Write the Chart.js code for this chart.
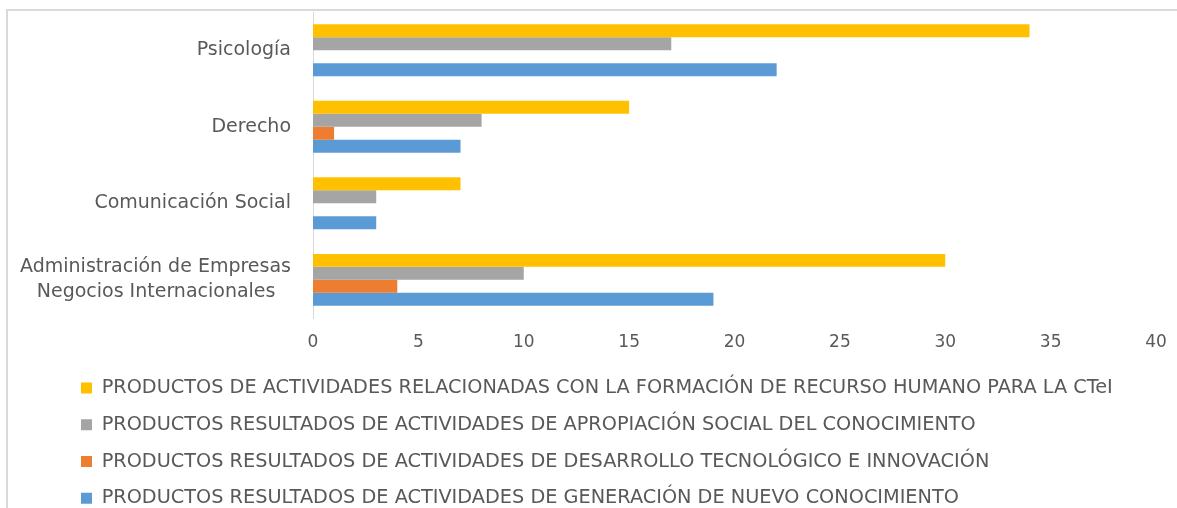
<!DOCTYPE html>
<html lang="es">
<head>
<meta charset="utf-8">
<title>Productos por programa</title>
<script src="https://cdn.jsdelivr.net/npm/chart.js@4.4.1/dist/chart.umd.min.js"></script>
<style>
  html, body { margin: 0; padding: 0; background: #fff; overflow: hidden; }
  #wrap { position: relative; width: 1177px; height: 508px; overflow: hidden; }
  /* marco gris claro del gráfico (solo se ven el borde superior e izquierdo) */
  #marcoSup { position: absolute; left: 6px; top: 9px; width: 1171px; height: 2px; background: #d9d9d9; }
  #marcoIzq { position: absolute; left: 6px; top: 9px; width: 2px; height: 499px; background: #d9d9d9; }
  #grafico { position: absolute; left: 0; top: 0; }
</style>
</head>
<body>
<div id="wrap">
  <div id="marcoSup"></div>
  <div id="marcoIzq"></div>
  <canvas id="grafico" width="1177" height="518"></canvas>
</div>
<script>
// Programas (de arriba hacia abajo)
const programas = [
  'Psicología',
  'Derecho',
  'Comunicación Social',
  ['Administración de Empresas', 'Negocios Internacionales\u2002 ']
];

// Series
const nombresSeries = [
  'PRODUCTOS DE ACTIVIDADES RELACIONADAS CON LA FORMACIÓN DE RECURSO HUMANO PARA LA CTeI',
  'PRODUCTOS RESULTADOS DE ACTIVIDADES DE APROPIACIÓN SOCIAL DEL CONOCIMIENTO',
  'PRODUCTOS RESULTADOS DE ACTIVIDADES DE DESARROLLO TECNOLÓGICO E INNOVACIÓN',
  'PRODUCTOS RESULTADOS DE ACTIVIDADES DE GENERACIÓN DE NUEVO CONOCIMIENTO'
];
const formacionRH = [34, 15, 7, 30];
const apropiacionSocial = [17, 8, 3, 10];
const desarrolloTec = [0, 1, 0, 4];
const nuevoConocimiento = [22, 7, 3, 19];

const coloresSeries = ['#FFC000', '#A5A5A5', '#ED7D31', '#5B9BD5'];

// Marcas del eje X
const marcasX = [0, 5, 10, 15, 20, 25, 30, 35, 40];

Chart.defaults.font.family = '"DejaVu Sans", sans-serif';
Chart.defaults.color = '#595959';

const valores = [formacionRH, apropiacionSocial, desarrolloTec, nuevoConocimiento];

// La leyenda empieza más a la derecha que las etiquetas del eje Y
const legendaDesplazada = {
  id: 'legendaDesplazada',
  afterLayout(chart) {
    chart.legend.left = 63.5;
  }
};

const ctx = document.getElementById('grafico').getContext('2d');
new Chart(ctx, {
  type: 'bar',
  data: {
    labels: programas,
    datasets: valores.map((serie, i) => ({
      label: nombresSeries[i],
      data: serie,
      backgroundColor: coloresSeries[i],
      borderWidth: 0,
      categoryPercentage: 0.678,
      barPercentage: 1
    }))
  },
  options: {
    indexAxis: 'y',
    responsive: false,
    animation: false,
    layout: { padding: { left: 8, right: 21, top: 12, bottom: 0 } },
    scales: {
      x: {
        min: marcasX[0],
        max: marcasX[marcasX.length - 1],
        grid: { display: false, drawTicks: false },
        border: { display: false },
        ticks: {
          stepSize: marcasX[1] - marcasX[0],
          padding: 14,
          font: { size: 17 }
        },
        afterFit: (scale) => {
          scale.height = 42.7;
          scale.paddingLeft = 0;
          scale.paddingRight = 0;
        }
      },
      y: {
        grid: { display: false, drawTicks: false },
        border: { display: true, color: '#d9d9d9', width: 1 },
        ticks: {
          padding: 22,
          font: { size: 19, lineHeight: 1.3 }
        },
        afterFit: (scale) => {
          scale.width = 305;
          scale.paddingTop = 0;
          scale.paddingBottom = 0;
        }
      }
    },
    plugins: {
      legend: {
        position: 'bottom',
        align: 'start',
        labels: {
          boxWidth: 11,
          boxHeight: 11,
          padding: 17.5,
          font: { size: 19.3 },
          color: '#595959'
        }
      },
      tooltip: { enabled: false }
    }
  },
  plugins: [legendaDesplazada]
});
</script>
</body>
</html>
